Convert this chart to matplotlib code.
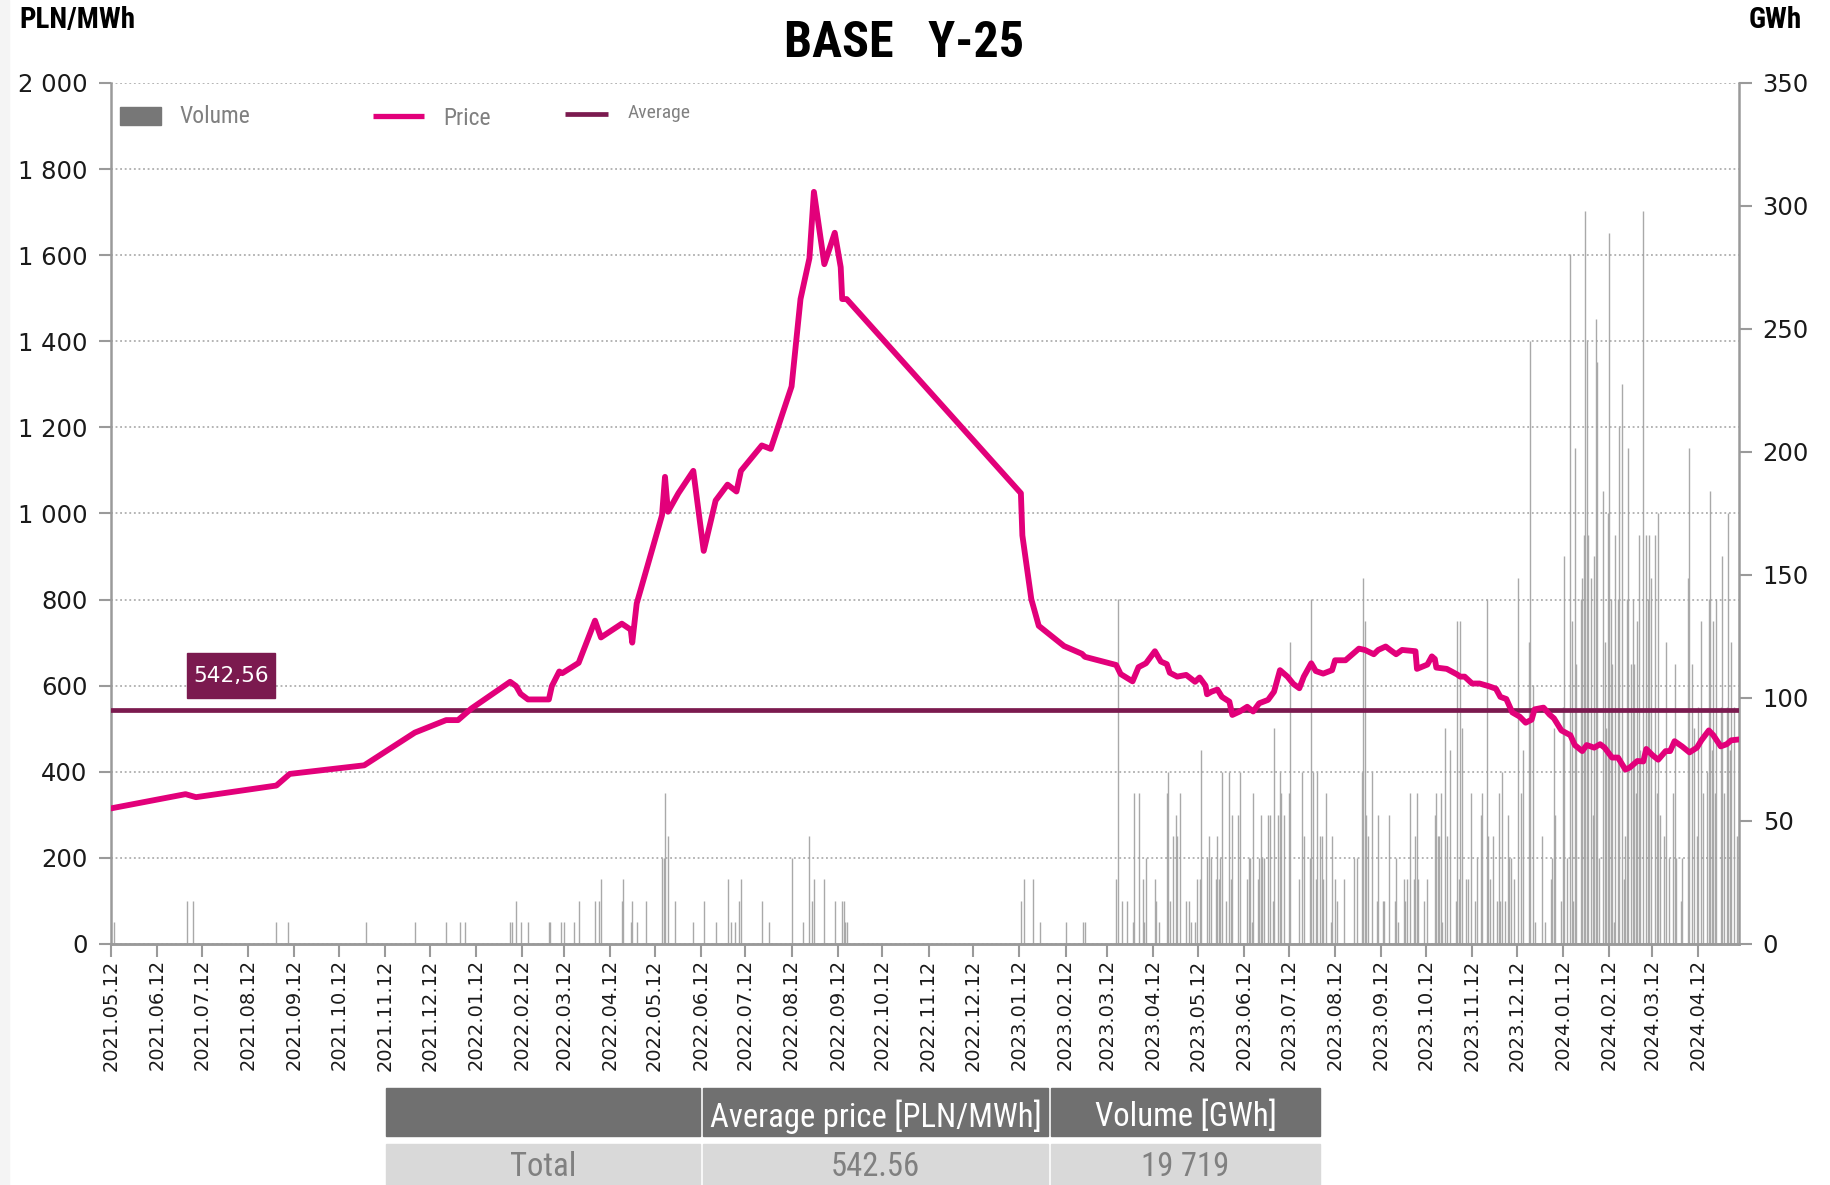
"""BASE Y-25: price curve, traded volume and average price, with a summary table."""
import os
import pandas as pd
import matplotlib
matplotlib.use("Agg")
import matplotlib.pyplot as plt
from matplotlib import font_manager
from matplotlib.font_manager import FontProperties
from matplotlib.patches import Rectangle
from matplotlib.lines import Line2D

START = pd.Timestamp("2021-05-12")
LAST_DAY = 1093  # last session, days after START

# settlement price, PLN/MWh (days after START)
price_day = [
    0, 50, 57, 111, 120, 170, 204, 225, 233, 242,
    268, 272, 275, 280, 294, 296, 301, 303, 314, 325,
    329, 343, 349, 350, 353, 370, 372, 374, 381, 391,
    398, 406, 414, 420, 423, 437, 443, 457, 463, 469,
    472, 479, 486, 490, 491, 494, 611, 612, 618, 623,
    640, 652, 654, 675, 678, 686, 690, 695, 701, 705,
    709, 711, 716, 722, 728, 731, 735, 736, 739, 743,
    746, 751, 753, 758, 763, 767, 771, 777, 781, 785,
    790, 794, 798, 801, 806, 809, 814, 820, 822, 829,
    838, 842, 848, 851, 856, 859, 863, 867, 876, 877,
    884, 887, 889, 890, 897, 904, 906, 909, 914, 919,
    925, 930, 933, 937, 941, 946, 950, 954, 956, 962,
    966, 969, 974, 980, 983, 988, 991, 996, 1000, 1003,
    1008, 1012, 1017, 1020, 1025, 1029, 1031, 1035, 1039, 1044,
    1047, 1050, 1055, 1060, 1065, 1068, 1073, 1076, 1081, 1085,
    1088, 1093,
]
price_value = [
    315, 348, 341, 368, 395, 415, 491, 520, 520, 547,
    609, 599, 581, 568, 568, 599, 633, 629, 653, 751,
    712, 744, 730, 700, 791, 996, 1085, 1004, 1047, 1099,
    913, 1030, 1067, 1051, 1099, 1158, 1150, 1295, 1498, 1593,
    1747, 1579, 1652, 1572, 1498, 1498, 1047, 949, 801, 739,
    692, 674, 667, 648, 627, 610, 643, 652, 680, 656,
    650, 630, 621, 625, 609, 619, 600, 580, 586, 591,
    574, 563, 532, 540, 551, 540, 559, 567, 586, 636,
    621, 604, 594, 621, 652, 634, 628, 636, 659, 659,
    686, 683, 673, 683, 691, 683, 673, 683, 680, 639,
    649, 668, 662, 642, 639, 626, 621, 621, 605, 605,
    599, 593, 574, 569, 538, 528, 514, 521, 545, 549,
    533, 524, 496, 485, 462, 448, 462, 456, 464, 456,
    433, 433, 405, 410, 425, 424, 453, 439, 428, 448,
    448, 471, 459, 445, 456, 473, 496, 485, 459, 464,
    473, 475,
]

# traded volume per session, GWh (days after START)
volume_day = [
    2, 51, 55, 111, 119, 171, 204, 225, 234, 238,
    268, 269, 272, 275, 280, 294, 295, 302, 304, 311,
    314, 325, 328, 329, 343, 344, 349, 350, 353, 359,
    370, 371, 372, 374, 379, 391, 398, 406, 414, 416,
    419, 422, 423, 437, 442, 457, 465, 469, 471, 472,
    479, 486, 491, 492, 493, 494, 611, 613, 619, 624,
    641, 653, 654, 675, 676, 679, 682, 686, 687, 690,
    693, 694, 695, 701, 702, 704, 709, 710, 711, 713,
    715, 716, 718, 722, 724, 725, 728, 729, 731, 732,
    736, 737, 739, 742, 743, 744, 745, 746, 749, 751,
    752, 753, 757, 758, 763, 764, 765, 766, 767, 770,
    771, 772, 773, 774, 777, 778, 780, 781, 784, 785,
    786, 788, 791, 792, 798, 800, 801, 805, 806, 807,
    809, 810, 812, 813, 814, 816, 819, 820, 822, 823,
    828, 835, 837, 840, 841, 842, 843, 844, 847, 850,
    851, 854, 855, 858, 862, 863, 864, 868, 869, 870,
    872, 875, 876, 877, 878, 882, 884, 889, 890, 891,
    892, 893, 894, 896, 897, 899, 903, 904, 905, 906,
    907, 910, 911, 913, 916, 917, 920, 921, 924, 925,
    926, 928, 931, 932, 933, 934, 936, 938, 939, 940,
    942, 945, 947, 948, 952, 953, 955, 956, 961, 963,
    967, 968, 969, 970, 974, 975, 976, 978, 980, 981,
    982, 983, 984, 987, 988, 989, 990, 991, 992, 994,
    995, 996, 997, 998, 999, 1002, 1003, 1004, 1005, 1006,
    1007, 1008, 1009, 1010, 1012, 1013, 1015, 1016, 1017, 1018,
    1019, 1021, 1022, 1023, 1024, 1025, 1026, 1027, 1029, 1031,
    1032, 1033, 1034, 1037, 1038, 1039, 1040, 1043, 1044, 1046,
    1049, 1050, 1051, 1054, 1055, 1059, 1060, 1062, 1063, 1065,
    1066, 1068, 1069, 1072, 1073, 1074, 1075, 1076, 1077, 1078,
    1081, 1082, 1083, 1085, 1086, 1087, 1088, 1090, 1092,
]
volume_gwh = [
    8.76, 17.52, 17.52, 8.76, 8.76, 8.76, 8.76, 8.76, 8.76, 8.76,
    8.76, 8.76, 17.52, 8.76, 8.76, 8.76, 8.76, 8.76, 8.76, 8.76,
    17.52, 17.52, 17.52, 26.28, 17.52, 26.28, 8.76, 17.52, 8.76, 17.52,
    35.04, 35.04, 61.32, 43.80, 17.52, 8.76, 17.52, 8.76, 26.28, 8.76,
    8.76, 17.52, 26.28, 17.52, 8.76, 35.04, 8.76, 43.80, 17.52, 26.28,
    26.28, 17.52, 17.52, 17.52, 8.76, 8.76, 17.52, 26.28, 26.28, 8.76,
    8.76, 8.76, 8.76, 26.28, 140.16, 17.52, 17.52, 8.76, 61.32, 61.32,
    26.28, 8.76, 35.04, 26.28, 17.52, 8.76, 61.32, 70.08, 17.52, 43.80,
    52.56, 43.80, 61.32, 17.52, 17.52, 8.76, 8.76, 26.28, 26.28, 78.84,
    35.04, 43.80, 35.04, 26.28, 43.80, 26.28, 35.04, 70.08, 17.52, 70.08,
    26.28, 52.56, 52.56, 70.08, 26.28, 35.04, 35.04, 8.76, 61.32, 26.28,
    35.04, 52.56, 35.04, 35.04, 52.56, 52.56, 17.52, 87.60, 52.56, 70.08,
    61.32, 52.56, 61.32, 122.64, 26.28, 70.08, 43.80, 35.04, 140.16, 70.08,
    26.28, 70.08, 43.80, 43.80, 26.28, 61.32, 8.76, 43.80, 26.28, 17.52,
    26.28, 35.04, 35.04, 70.08, 148.92, 131.40, 52.56, 43.80, 70.08, 17.52,
    52.56, 17.52, 17.52, 52.56, 17.52, 35.04, 8.76, 26.28, 17.52, 26.28,
    61.32, 26.28, 43.80, 61.32, 26.28, 17.52, 26.28, 52.56, 61.32, 43.80,
    43.80, 61.32, 8.76, 87.60, 43.80, 78.84, 17.52, 131.40, 26.28, 131.40,
    87.60, 26.28, 26.28, 61.32, 17.52, 35.04, 52.56, 61.32, 140.16, 43.80,
    26.28, 43.80, 17.52, 61.32, 17.52, 70.08, 17.52, 52.56, 35.04, 35.04,
    26.28, 148.92, 61.32, 78.84, 122.64, 245.28, 105.12, 8.76, 43.80, 8.76,
    26.28, 35.04, 87.60, 52.56, 17.52, 96.36, 157.68, 35.04, 280.32, 131.40,
    17.52, 201.48, 113.88, 140.16, 148.92, 166.44, 297.84, 245.28, 166.44, 148.92,
    52.56, 157.68, 254.04, 236.52, 35.04, 183.96, 122.64, 87.60, 175.20, 289.08,
    140.16, 113.88, 8.76, 166.44, 140.16, 210.24, 227.76, 26.28, 43.80, 140.16,
    201.48, 113.88, 140.16, 113.88, 61.32, 131.40, 166.44, 78.84, 297.84, 166.44,
    140.16, 166.44, 148.92, 166.44, 61.32, 175.20, 52.56, 43.80, 122.64, 35.04,
    61.32, 113.88, 35.04, 17.52, 35.04, 148.92, 201.48, 113.88, 87.60, 43.80,
    96.36, 131.40, 61.32, 70.08, 140.16, 183.96, 78.84, 131.40, 61.32, 140.16,
    96.36, 157.68, 61.32, 96.36, 175.20, 78.84, 122.64, 96.36, 43.80,
]

AVERAGE = 542.56
TABLE_HEADER = ["", "Average price [PLN/MWh]", "Volume [GWh]"]
TABLE_ROW = ["Total", "542.56", "19 719"]
price_ticks = list(range(0, 2001, 200))
volume_ticks = list(range(0, 351, 50))
date_ticks = pd.date_range("2021-05-12", "2024-04-12", freq=pd.DateOffset(months=1))

PINK = "#E2007A"
PLUM = "#7B1A4F"
BAR = "#a9a9a9"
AXIS = "#9a9a9a"


def condensed(bold):
    """A narrow sans face if one is installed, else None."""
    files = [f.fname for f in font_manager.fontManager.ttflist]
    wanted = (
        ["LiberationSansNarrow-Bold", "RobotoCondensed-Bold", "DejaVuSansCondensed-Bold",
         "NotoSans-CondensedBold", "OpenSans_Condensed-Bold", "OpenSans-CondensedBold"]
        if bold else
        ["LiberationSansNarrow-Regular", "RobotoCondensed-Regular", "DejaVuSansCondensed.",
         "NotoSans-Condensed.", "OpenSans_Condensed-Regular", "OpenSans-CondensedRegular"]
    )
    for key in wanted:
        for path in files:
            if key in os.path.basename(path):
                return FontProperties(fname=path)
    return None


BOLD_NARROW = condensed(True)
REG_NARROW = condensed(False)
# without a narrow face the text is shrunk to keep the same width
SHRINK = 1.0 if BOLD_NARROW is not None else 0.78


def narrow_text(target, x, y, s, size, bold=False, **kw):
    fp = BOLD_NARROW if bold else REG_NARROW
    if fp is not None:
        fp = fp.copy()
        fp.set_size(size)
        return target.text(x, y, s, fontproperties=fp, **kw)
    return target.text(x, y, s, fontsize=size * SHRINK,
                       fontweight="bold" if bold else "normal", **kw)


plt.rcParams["font.family"] = ["DejaVu Sans"]

price_dates = START + pd.to_timedelta(price_day, unit="D")
volume_dates = START + pd.to_timedelta(volume_day, unit="D")

fig = plt.figure(figsize=(18.30, 11.85), dpi=100)
ax = fig.add_axes([0.0607, 0.2034, 0.8896, 0.7266])
ax2 = ax.twinx()
ax.set_zorder(ax2.get_zorder() + 1)
ax.patch.set_visible(False)

# volume bars on the right-hand scale
ax2.vlines(volume_dates, 0, volume_gwh, color=BAR, lw=1.0)
ax2.set_ylim(0, 350)
ax2.set_yticks(volume_ticks)
ax2.tick_params(axis="y", direction="out", length=9, width=1.5, color=AXIS,
                labelsize=17.5, labelcolor="#1a1a1a", pad=8)

# price and average
ax.plot(price_dates, price_value, color=PINK, lw=4.2, solid_joinstyle="round", zorder=4)
ax.axhline(AVERAGE, color=PLUM, lw=3.4, zorder=3)

ax.set_ylim(0, 2000)
ax.set_xlim(START, START + pd.Timedelta(days=LAST_DAY + 0.3))
ax.set_yticks(price_ticks)
ax.set_yticklabels([f"{v:,}".replace(",", " ") for v in price_ticks])
ax.grid(axis="y", ls=(0, (1.2, 1.8)), color="#a0a0a0", lw=1.1)
ax.set_xticks(date_ticks)
ax.set_xticklabels([d.strftime("%Y.%m.%d") for d in date_ticks], rotation=90)
ax.tick_params(axis="y", direction="out", length=9, width=1.5, color=AXIS,
               labelsize=17.5, labelcolor="#1a1a1a", pad=8)
ax.tick_params(axis="x", direction="out", length=9, width=1.5, color=AXIS,
               labelsize=14, labelcolor="#1a1a1a", pad=2)

for a in (ax, ax2):
    a.spines["top"].set_visible(False)
    for side in ("left", "right", "bottom"):
        a.spines[side].set_color(AXIS)
        a.spines[side].set_linewidth(1.8)
ax.spines["right"].set_visible(False)
ax2.spines["left"].set_visible(False)

# average label
ax.add_patch(Rectangle((0.0467, 0.2857), 0.0541, 0.0523, transform=ax.transAxes,
                       color=PLUM, zorder=5, clip_on=False))
ax.text(0.0737, 0.3118, f"{AVERAGE:.2f}".replace(".", ","), transform=ax.transAxes,
        ha="center", va="center", color="white", fontsize=15.5, zorder=6)

# legend, hand placed as in the source
ax.add_patch(Rectangle((0.0055, 0.951), 0.0252, 0.021, transform=ax.transAxes,
                       color="#777777", clip_on=False, zorder=5))
narrow_text(ax, 0.0418, 0.9615, "Volume", 17, transform=ax.transAxes, ha="left",
            va="center", color="#808080")
ax.add_line(Line2D([0.161, 0.192], [0.9617, 0.9617], transform=ax.transAxes,
                   color=PINK, lw=3.8, solid_capstyle="butt"))
narrow_text(ax, 0.204, 0.959, "Price", 17, transform=ax.transAxes, ha="left",
            va="center", color="#808080")
ax.add_line(Line2D([0.279, 0.305], [0.9645, 0.9645], transform=ax.transAxes,
                   color=PLUM, lw=3.4, solid_capstyle="butt"))
narrow_text(ax, 0.317, 0.9655, "Average", 14, transform=ax.transAxes, ha="left",
            va="center", color="#808080")

# headers
narrow_text(fig, 0.494, 0.963, "BASE   Y-25", 36, bold=True, ha="center", va="center")
narrow_text(fig, 0.0105, 0.983, "PLN/MWh", 21, bold=True, ha="left", va="center")
narrow_text(fig, 0.9845, 0.983, "GWh", 21, bold=True, ha="right", va="center")

# light strip on the left edge
fig.patches.append(Rectangle((0, 0), 0.005, 1, transform=fig.transFigure,
                             color="#f4f4f4", zorder=0))

# summary table
col_left = [0.2109, 0.3842, 0.5743]
col_width = [0.1716, 0.1885, 0.1470]
for x0, w, head, cell in zip(col_left, col_width, TABLE_HEADER, TABLE_ROW):
    fig.patches.append(Rectangle((x0, 0.0414), w, 0.0405, transform=fig.transFigure,
                                 color="#707070"))
    fig.patches.append(Rectangle((x0, 0.0), w, 0.0346, transform=fig.transFigure,
                                 color="#d9d9d9"))
    narrow_text(fig, x0 + w / 2, 0.0575, head, 23.5, ha="center", va="center",
                color="white")
    narrow_text(fig, x0 + w / 2, 0.0150, cell, 23.5, ha="center", va="center",
                color="#808080")

fig.savefig("out.png", dpi=100)
